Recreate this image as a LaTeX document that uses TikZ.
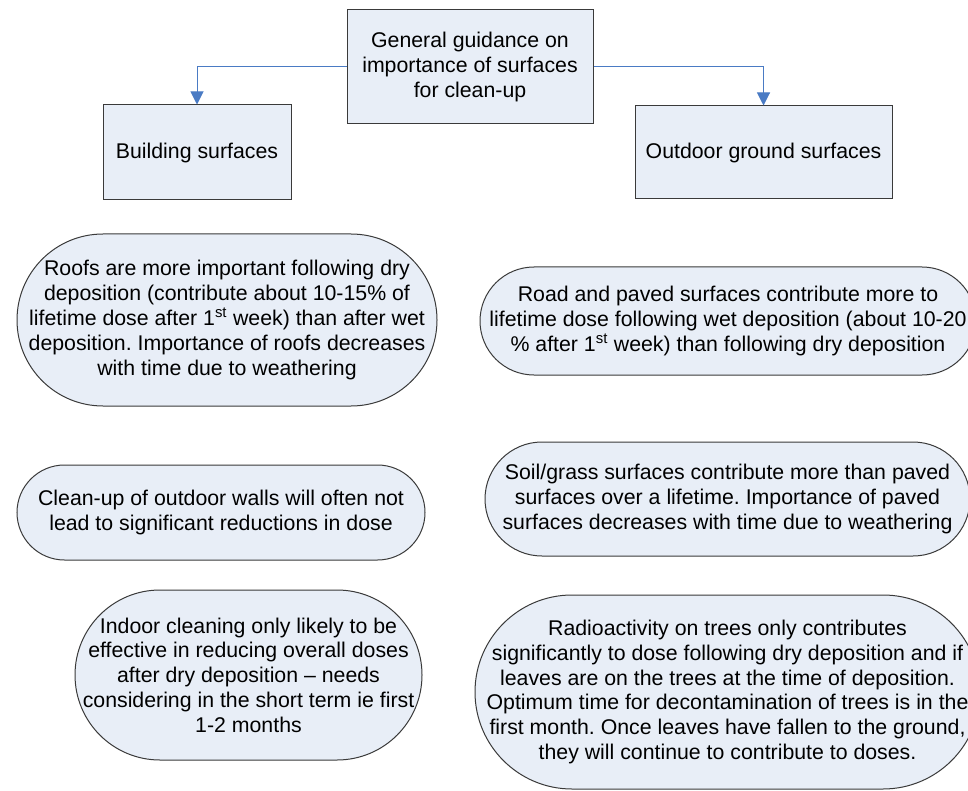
\documentclass[tikz,border=0pt]{standalone}
\usepackage{fontspec}
\setmainfont{Liberation Sans}
\usetikzlibrary{arrows.meta}
\frenchspacing
\definecolor{boxfill}{HTML}{E8EEF7}
\definecolor{boxline}{HTML}{3A3A3A}
\definecolor{linkblue}{HTML}{4A7BC4}
\tikzset{
  txt/.style={font=\fontsize{21.3}{24.8}\selectfont, align=center, text=black, inner sep=0pt},
  panel/.style={txt, draw=boxline, fill=boxfill, line width=1pt},
  heading/.style n args={2}{panel, rectangle, minimum width=#1, minimum height=#2},
  term/.style n args={3}{panel, rectangle, minimum width=#1, minimum height=#2, rounded corners=#3},
  link/.style={draw=linkblue, line width=1pt, -{Triangle[length=13pt,width=13pt]}}
}
\begin{document}
\begin{tikzpicture}[x=1pt, y=-1pt]
  \useasboundingbox (0,0) rectangle (968,791);
  \clip (0,0) rectangle (968,791);

  % headings
  \node[heading={246pt}{114pt}] (top) at (470,67)
    {General guidance on\\importance of surfaces\\for clean-up};
  \node[heading={188pt}{95pt}] (build) at (197,152.5) {Building surfaces};
  \node[heading={257pt}{93pt}] (out) at (763.5,152.5) {Outdoor ground surfaces};

  \draw[link] (top.west) -| (build.north);
  \draw[link] (top.east) -| (out.north);

  % building surfaces
  \node[term={420pt}{172pt}{86pt}] (roofs) at (227,320)
    {Roofs are more important following dry\\deposition (contribute about 10-15\% of\\lifetime dose after 1\textsuperscript{st} week) than after wet\\deposition. Importance of roofs decreases\\with time due to weathering};
  \node[term={408pt}{95pt}{47.5pt}] (walls) at (221,512.5)
    {Clean-up of outdoor walls will often not\\lead to significant reductions in dose};
  \node[term={347pt}{170pt}{85pt}] (indoor) at (248.5,675)
    {Indoor cleaning only likely to be\\effective in reducing overall doses\\after dry deposition – needs\\considering in the short term ie first\\1-2 months};

  % outdoor ground surfaces
  \node[term={496pt}{108pt}{54pt}] (road) at (728,321)
    {Road and paved surfaces contribute more to\\lifetime dose following wet deposition (about 10-20\\\% after 1\textsuperscript{st} week) than following dry deposition};
  \node[term={485pt}{114pt}{57pt}] (soil) at (727.5,499)
    {Soil/grass surfaces contribute more than paved\\surfaces over a lifetime. Importance of paved\\surfaces decreases with time due to weathering};
  \node[term={505pt}{194pt}{97pt}] (trees) at (727.5,692)
    {Radioactivity on trees only contributes\\significantly to dose following dry deposition and if\\leaves are on the trees at the time of deposition.\\Optimum time for decontamination of trees is in the\\first month. Once leaves have fallen to the ground,\\they will continue to contribute to doses.};
\end{tikzpicture}
\end{document}
